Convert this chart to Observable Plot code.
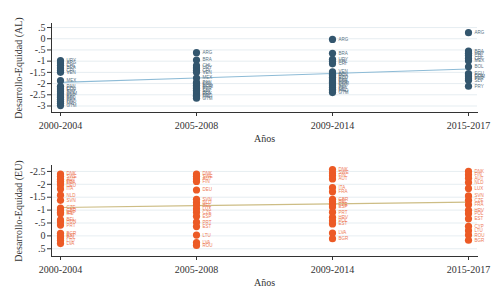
<!DOCTYPE html>
<html>
<head>
<meta charset="utf-8">
<script src="https://cdn.jsdelivr.net/npm/d3@7"></script>
<script src="https://cdn.jsdelivr.net/npm/@observablehq/plot@0.6"></script>
<style>
  html, body { margin: 0; padding: 0; background: #fff; }
  #chart svg { display: block; }
</style>
</head>
<body>
<div id="chart"></div>
<script>
const periods = ["2000-2004", "2005-2008", "2009-2014", "2015-2017"];

// América Latina
const alCodes2000 = ["URY","ARG","CHL","BRA","CRI","VEN","MEX","PAN","COL","ECU","SLV","DOM","PER","BOL","PRY","HND","NIC","GTM"];
const alVals2000  = [-0.98,-1.08,-1.18,-1.30,-1.42,-1.50,-1.87,-2.12,-2.20,-2.28,-2.36,-2.45,-2.55,-2.62,-2.70,-2.80,-2.88,-2.98];
const alCodes2005 = ["ARG","BRA","CHL","URY","CRI","VEN","MEX","PAN","COL","ECU","DOM","PER","SLV","BOL","PRY","HND","NIC","GTM"];
const alVals2005  = [-0.62,-0.95,-1.20,-1.30,-1.42,-1.50,-1.75,-1.95,-2.00,-2.08,-2.15,-2.22,-2.30,-2.38,-2.45,-2.52,-2.58,-2.65];
const alCodes2009 = ["ARG","BRA","URY","CHL","CRI","VEN","BOL","MEX","ECU","PAN","COL","PER","DOM","SLV","PRY","NIC","HND","GTM"];
const alVals2009  = [-0.03,-0.65,-0.92,-1.02,-1.12,-1.48,-1.58,-1.65,-1.72,-1.80,-1.88,-1.95,-2.02,-2.10,-2.18,-2.25,-2.32,-2.40];
const alCodes2015 = ["ARG","BRA","URY","CHL","CRI","MEX","BOL","ECU","COL","DOM","PER","SLV","PRY"];
const alVals2015  = [0.27,-0.55,-0.65,-0.75,-0.88,-0.98,-1.25,-1.55,-1.62,-1.70,-1.78,-1.85,-2.12];
const alFit = [-1.95, -1.75, -1.55, -1.35];
const alTicks = [0.5, 0, -0.5, -1, -1.5, -2, -2.5, -3];

// Europa
const euCodes2000 = ["DNK","SWE","AUT","FIN","FRA","DEU","ITA","NLD","SVN","CZE","GBR","ESP","IRL","BEL","HUN","PRT","BGR","EST","POL","LTU","LVA"];
const euVals2000  = [-2.40,-2.30,-2.20,-2.12,-2.05,-1.97,-1.82,-1.58,-1.38,-1.08,-1.00,-0.92,-0.86,-0.62,-0.55,-0.42,-0.10,0.00,0.08,0.18,0.30];
const euCodes2005 = ["DNK","SWE","AUT","FIN","DEU","SVN","NLD","BEL","LUX","CZE","ESP","PRT","EST","LTU","LVA","ROU"];
const euVals2005  = [-2.40,-2.31,-2.21,-2.11,-1.78,-1.42,-1.29,-1.19,-1.05,-0.92,-0.76,-0.53,-0.36,-0.03,0.26,0.37];
const euCodes2009 = ["DNK","SWE","FIN","AUT","ITA","FRA","GBR","BEL","CZE","ESP","PRT","HRV","POL","EST","LVA","BGR"];
const euVals2009  = [-2.57,-2.44,-2.33,-2.21,-1.87,-1.71,-1.42,-1.32,-1.23,-1.12,-0.92,-0.72,-0.59,-0.46,-0.11,0.11];
const euCodes2015 = ["DNK","FIN","AUT","NLD","LUX","SVN","CZE","FRA","HRV","POL","EST","CYP","LTU","ROU","BGR"];
const euVals2015  = [-2.50,-2.37,-2.24,-2.07,-1.84,-1.55,-1.38,-1.21,-0.99,-0.86,-0.66,-0.37,-0.20,-0.03,0.17];
const euFit = [-1.10, -1.17, -1.24, -1.31];
const euTicks = [-2.5, -2, -1.5, -1, -0.5, 0, 0.5];

function rows(codesList, valsList) {
  const out = [];
  codesList.forEach((codes, i) => codes.forEach((c, j) => out.push({period: periods[i], code: c, value: valsList[i][j]})));
  return out;
}
const alData = rows([alCodes2000, alCodes2005, alCodes2009, alCodes2015], [alVals2000, alVals2005, alVals2009, alVals2015]);
const euData = rows([euCodes2000, euCodes2005, euCodes2009, euCodes2015], [euVals2000, euVals2005, euVals2009, euVals2015]);
const alFitData = periods.map((p, i) => ({period: p, value: alFit[i]}));
const euFitData = periods.map((p, i) => ({period: p, value: euFit[i]}));

const fmt = v => v === 0 ? "0" : String(v).replace(/^(-?)0\./, "$1.");

function panel({data, fit, ticks, domain, reverse, height, marginTop, color, labelColor, lineColor, title}) {
  return Plot.plot({
    width: 500,
    height,
    marginLeft: 51,
    marginRight: 23,
    marginTop,
    marginBottom: 33,
    style: {fontFamily: "'Liberation Serif', 'DejaVu Serif', serif", fontSize: "10px", color: "#333", background: "#fff"},
    x: {type: "point", domain: periods, padding: 0.055},
    y: {domain, reverse},
    marks: [
      Plot.gridY(ticks, {stroke: "#dfe9ee", strokeOpacity: 1, strokeWidth: 0.8}),
      Plot.axisY(ticks, {tickFormat: fmt, tickSize: 4, tickPadding: 2, fontSize: 10, label: title, labelAnchor: "center", labelOffset: 37, labelArrow: "none"}),
      Plot.axisX({tickSize: 4, tickPadding: 5, fontSize: 10, label: "Años", labelAnchor: "center", labelOffset: 29, labelArrow: "none"}),
      Plot.frame({anchor: "left", stroke: "#333"}),
      Plot.frame({anchor: "bottom", stroke: "#333"}),
      Plot.line(fit, {x: "period", y: "value", stroke: lineColor, strokeWidth: 1.2}),
      Plot.dot(data, {x: "period", y: "value", r: 3.6, fill: color, stroke: "none"}),
      Plot.text(data, {x: "period", y: "value", text: "code", dx: 6, textAnchor: "start", fontSize: 4.5, fill: labelColor, fontFamily: "Arial, sans-serif"})
    ]
  });
}

const topPanel = panel({
  data: alData, fit: alFitData, ticks: alTicks, domain: [-3.29, 0.68], reverse: false,
  height: 145, marginTop: 23, color: "#33566e", labelColor: "#5a7384", lineColor: "#8dbbd6",
  title: "Desarrollo-Equidad (AL)"
});
const bottomPanel = panel({
  data: euData, fit: euFitData, ticks: euTicks, domain: [-2.73, 0.80], reverse: true,
  height: 144, marginTop: 20, color: "#ec5a25", labelColor: "#ee7a55", lineColor: "#cdbd85",
  title: "Desarrollo-Equidad (EU)"
});
document.getElementById("chart").append(topPanel, bottomPanel);
</script>
</body>
</html>
